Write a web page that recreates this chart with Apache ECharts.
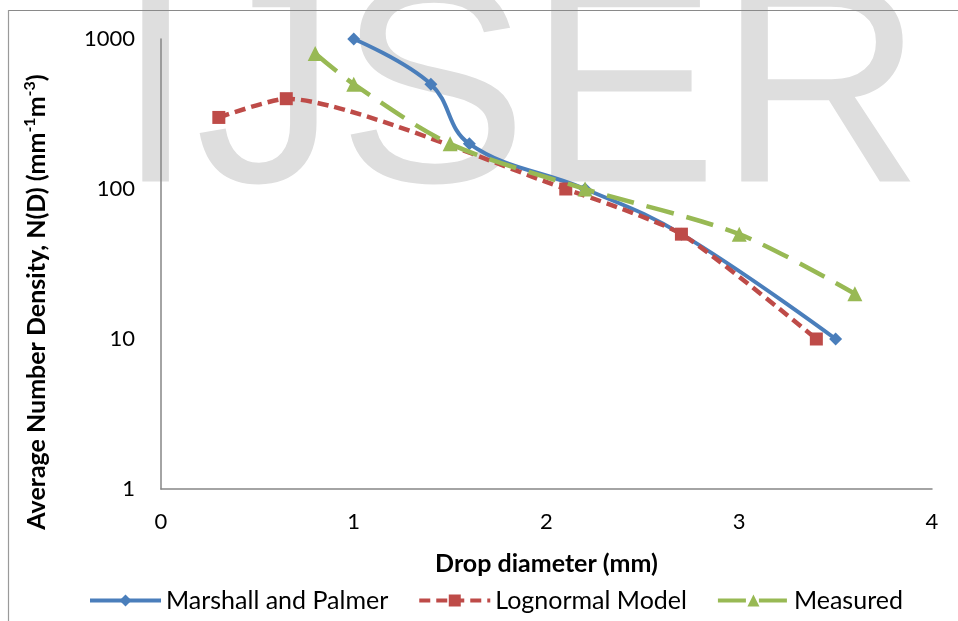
<!DOCTYPE html>
<html>
<head>
<meta charset="utf-8">
<script src="https://cdn.jsdelivr.net/npm/echarts@6/dist/echarts.min.js"></script>
<style>
  html, body { margin: 0; padding: 0; background: #fff; }
  #chart { width: 958px; height: 621px; }
</style>
</head>
<body>
<div id="chart"></div>
<script>
// drop diameter (mm) and number density for each curve
const mpX = [1, 1.4, 1.6, 2.2, 2.7, 3.5]
const mpY = [1000, 500, 200, 100, 50, 10]
const lnX = [0.3, 0.65, 2.1, 2.7, 3.4]
const lnY = [300, 400, 100, 50, 10]
const msX = [0.8, 1.0, 1.5, 2.2, 3.0, 3.6]
const msY = [800, 500, 200, 100, 50, 20]
const xTicks = [0, 1, 2, 3, 4]
const yTicks = [1, 10, 100, 1000]

const pairs = (xs, ys) => xs.map((x, i) => [x, ys[i]])

const font = 'Lato, "Noto Sans", sans-serif'
const chart = echarts.init(document.getElementById('chart'))

chart.setOption({
  animation: false,
  grid: { left: 161, right: 26, top: 39, bottom: 132 },
  xAxis: {
    type: 'value',
    min: xTicks[0],
    max: xTicks[xTicks.length - 1],
    interval: 1,
    axisLine: { lineStyle: { color: '#868686', width: 1.5 } },
    axisTick: { show: false },
    splitLine: { show: false },
    axisLabel: { color: '#000', fontFamily: font, fontSize: 22, margin: 22 },
    name: 'Drop diameter (mm)',
    nameLocation: 'middle',
    nameGap: 62,
    nameTextStyle: { color: '#000', fontFamily: font, fontSize: 25, fontWeight: 'bold' }
  },
  yAxis: {
    type: 'log',
    logBase: 10,
    min: yTicks[0],
    max: yTicks[yTicks.length - 1],
    axisLine: { show: true, lineStyle: { color: '#868686', width: 1.5 } },
    axisTick: { show: false },
    splitLine: { show: false },
    minorTick: { show: false },
    axisLabel: {
      color: '#000', fontFamily: font, fontSize: 22, margin: 26,
      formatter: v => String(v)
    }
  },
  legend: {
    left: 88,
    top: 588,
    padding: 0,
    itemWidth: 71,
    itemHeight: 15,
    itemGap: 29,
    lineStyle: { width: 4 },
    textStyle: { color: '#000', fontFamily: font, fontSize: 25 },
    data: ['Marshall and Palmer', 'Lognormal Model', 'Measured']
  },
  graphic: [
    {
      type: 'text', z: -10, x: 116, y: 103,
      style: {
        text: 'IJSER', fill: '#dedede',
        font: '285px "Liberation Sans", Arial, sans-serif',
        textAlign: 'left', textVerticalAlign: 'middle'
      }
    },
    { type: 'line', shape: { x1: 8, y1: 10.5, x2: 958, y2: 10.5 }, style: { stroke: '#8a8a8a', lineWidth: 1.2 } },
    { type: 'line', shape: { x1: 8.5, y1: 10, x2: 8.5, y2: 621 }, style: { stroke: '#9a9a9a', lineWidth: 1.2 } },
    {
      type: 'text', x: 37, y: 302, rotation: Math.PI / 2,
      style: {
        text: '{a|Average Number Density, N(D) (mm}{s|-1}{a|m}{s|-3}{a|)}',
        textAlign: 'center', textVerticalAlign: 'middle',
        rich: {
          a: { fontFamily: font, fontSize: 25, fontWeight: 'bold', fill: '#000', lineHeight: 30 },
          s: { fontFamily: font, fontSize: 16, fontWeight: 'bold', fill: '#000', lineHeight: 30, verticalAlign: 'top' }
        }
      }
    }
  ],
  series: [
    {
      name: 'Marshall and Palmer',
      type: 'line',
      smooth: 0.4,
      data: pairs(mpX, mpY),
      symbol: 'diamond',
      symbolSize: 13,
      itemStyle: { color: '#4a7ebb' },
      lineStyle: { color: '#4a7ebb', width: 4 },
      z: 2
    },
    {
      name: 'Lognormal Model',
      type: 'line',
      smooth: 0.2,
      data: pairs(lnX, lnY),
      symbol: 'rect',
      symbolSize: 13,
      itemStyle: { color: '#be4b48' },
      lineStyle: { color: '#be4b48', width: 4.5, type: [11, 6] },
      z: 3
    },
    {
      name: 'Measured',
      type: 'line',
      smooth: 0.3,
      data: pairs(msX, msY),
      symbol: 'triangle',
      symbolSize: 15,
      itemStyle: { color: '#98b954' },
      lineStyle: { color: '#98b954', width: 4.5, type: [28, 13] },
      z: 4
    }
  ]
})
</script>
</body>
</html>
